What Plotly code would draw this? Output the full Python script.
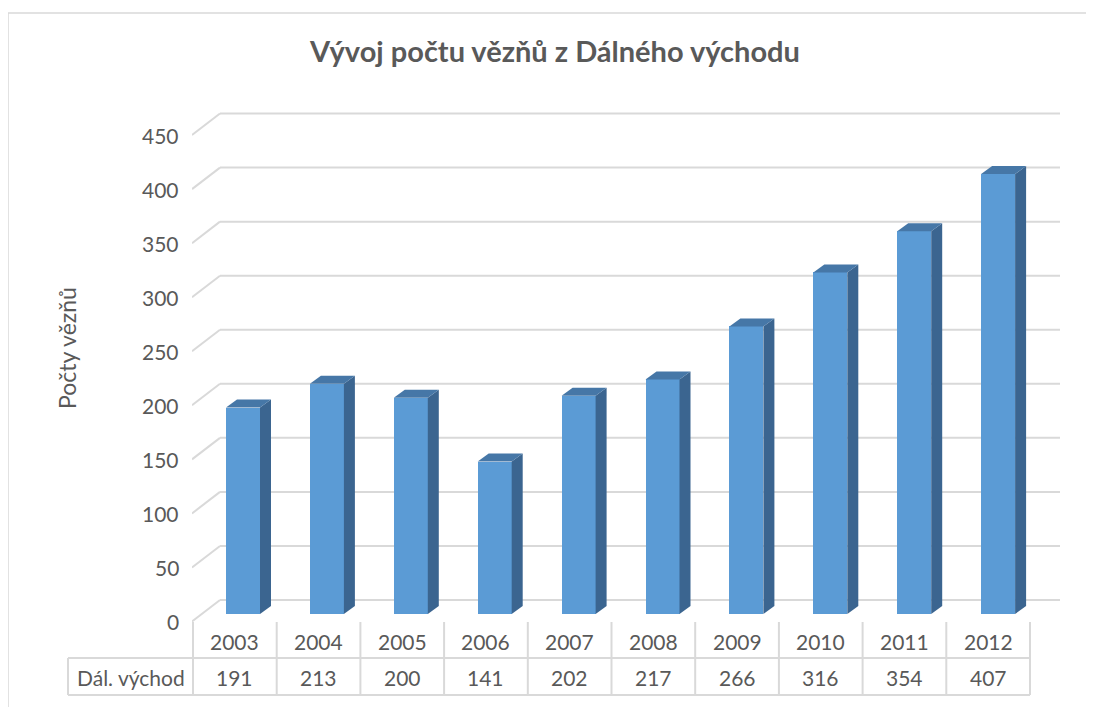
import plotly.graph_objects as go

# Data
roky = ["2003", "2004", "2005", "2006", "2007", "2008", "2009", "2010", "2011", "2012"]
pocty = [191, 213, 200, 141, 202, 217, 266, 316, 354, 407]
tick_vals = [0, 50, 100, 150, 200, 250, 300, 350, 400, 450]
radek_nazev = "Dál. východ"

# geometrie (pixely v obrazku), stranka ma okraj 8 px
OFF = 8
W, H = 1094 - OFF, 707 - OFF
PL, PR, PT, PB = 192, 1060, 105, 625      # plocha grafu
X0_PX, PX_X = 243, 83.9                   # stred prvniho sloupce, px na kategorii
Y0_PX, PX_Y = 614, 1.081                  # nula v rovine sloupcu, px na jednotku

def xd(px):
    return (px - X0_PX) / PX_X

def yd_off(px_off):
    return px_off / PX_Y

def xp(px):
    return (px - PL) / (PR - PL)

def yp(py):
    return (PB - py) / (PB - PT)

TEXT = "#595959"
GRID = "#D9D9D9"
FRONT = "#5B9BD5"
SIDE = "#3B6590"
TOP = "#4677A7"
FONT = "Lato"

fig = go.Figure()

bar_w = 34 / PX_X
fig.add_trace(
    go.Bar(
        x=list(range(len(roky))),
        y=pocty,
        width=bar_w,
        marker=dict(color=FRONT, line=dict(width=0)),
        showlegend=False,
        hoverinfo="skip",
    )
)

shapes = []

# zadni stena - mrizka
for v in tick_vals:
    yb = v + yd_off(14)
    yf = v - yd_off(7.5)
    shapes.append(dict(type="line", xref="x", yref="y", layer="below",
                       x0=xd(220), x1=xd(1060), y0=yb, y1=yb,
                       line=dict(color=GRID, width=2)))
    shapes.append(dict(type="line", xref="x", yref="y", layer="below",
                       x0=xd(192), x1=xd(220), y0=yf, y1=yb,
                       line=dict(color=GRID, width=2)))

# 3D boky a vrsky sloupcu
dx = 11 / PX_X
dy = yd_off(8)
for i, v in enumerate(pocty):
    xl = i - bar_w / 2
    xr = i + bar_w / 2
    shapes.append(dict(
        type="path", xref="x", yref="y", layer="above", line=dict(width=0),
        fillcolor=SIDE,
        path=f"M {xr},0 L {xr + dx},{dy} L {xr + dx},{v + dy} L {xr},{v} Z",
    ))
    shapes.append(dict(
        type="path", xref="x", yref="y", layer="above", line=dict(width=0),
        fillcolor=TOP,
        path=f"M {xl},{v} L {xr},{v} L {xr + dx},{v + dy} L {xl + dx},{v + dy} Z",
    ))

# tabulka dat
tab_l, tab_r = 193, 1030
tab_top, tab_mid, tab_bot = 622, 658, 695
head_l = 68
col_w = (tab_r - tab_l) / len(roky)
for k in range(len(roky) + 1):
    xx = tab_l + k * col_w
    shapes.append(dict(type="line", xref="paper", yref="paper",
                       x0=xp(xx), x1=xp(xx), y0=yp(tab_top), y1=yp(tab_bot),
                       line=dict(color=GRID, width=2)))
for yy in (tab_mid, tab_bot):
    shapes.append(dict(type="line", xref="paper", yref="paper",
                       x0=xp(head_l), x1=xp(tab_r), y0=yp(yy), y1=yp(yy),
                       line=dict(color=GRID, width=2)))
shapes.append(dict(type="line", xref="paper", yref="paper",
                   x0=xp(head_l), x1=xp(head_l), y0=yp(tab_mid), y1=yp(tab_bot),
                   line=dict(color=GRID, width=2)))

# ramecek grafu
shapes.append(dict(type="rect", xref="paper", yref="paper",
                   x0=xp(8), x1=xp(1094 + 20), y0=yp(13), y1=yp(707 + 20),
                   line=dict(color=GRID, width=1.5)))

annotations = []
for v in tick_vals:
    annotations.append(dict(
        xref="paper", yref="y", x=xp(181), y=v, yshift=-7.5,
        xanchor="right", yanchor="middle", showarrow=False,
        text=str(v), font=dict(family=FONT, size=21, color=TEXT),
    ))

for i, (r, p) in enumerate(zip(roky, pocty)):
    xc = tab_l + (i + 0.5) * col_w
    annotations.append(dict(
        xref="paper", yref="paper", x=xp(xc), y=yp(641),
        xanchor="center", yanchor="middle", showarrow=False,
        text=r, font=dict(family=FONT, size=21, color=TEXT),
    ))
    annotations.append(dict(
        xref="paper", yref="paper", x=xp(xc), y=yp(677),
        xanchor="center", yanchor="middle", showarrow=False,
        text=str(p), font=dict(family=FONT, size=21, color=TEXT),
    ))

annotations.append(dict(
    xref="paper", yref="paper", x=xp((head_l + tab_l) / 2), y=yp(677),
    xanchor="center", yanchor="middle", showarrow=False,
    text=radek_nazev, font=dict(family=FONT, size=21, color=TEXT),
))

annotations.append(dict(
    xref="paper", yref="paper", x=xp(67), y=yp(348),
    xanchor="center", yanchor="middle", showarrow=False, textangle=-90,
    text="Počty vězňů", font=dict(family=FONT, size=23, color=TEXT),
))

fig.update_layout(
    width=W,
    height=H,
    title=dict(
        text="<b>Vývoj počtu vězňů z Dálného východu</b>",
        x=(555 - OFF) / W, y=1 - (52 - OFF) / H, xanchor="center", yanchor="middle",
        font=dict(family=FONT, size=29, color=TEXT),
    ),
    plot_bgcolor="white",
    paper_bgcolor="white",
    margin=dict(l=PL - OFF, r=1094 - PR, t=PT - OFF, b=707 - PB),
    shapes=shapes,
    annotations=annotations,
    xaxis=dict(range=[xd(PL), xd(PR)], visible=False, fixedrange=True),
    yaxis=dict(range=[(Y0_PX - PB) / PX_Y, (Y0_PX - PT) / PX_Y],
               visible=False, fixedrange=True),
    bargap=0,
)

fig.write_html("out.html")
